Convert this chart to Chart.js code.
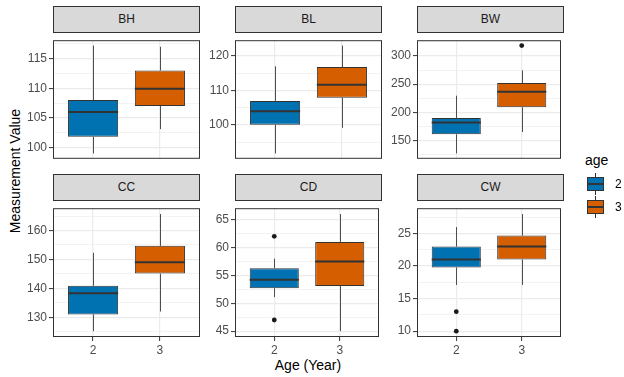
<!doctype html>
<html>
<head>
  <meta charset="utf-8">
  <script src="https://cdn.jsdelivr.net/npm/chart.js@4.4.1/dist/chart.umd.min.js"></script>
  <style>
    body { margin: 0; background: #fff; font-family: "Liberation Sans", Arial, sans-serif; }
    #plot { position: relative; width: 624px; height: 377px; overflow: hidden; background: #fff; }
    #plot canvas { position: absolute; }
    .strip { position: absolute; box-sizing: border-box; width: 147px; height: 27px; background: #d9d9d9;
      border: 1px solid #333; color: #1a1a1a; font-size: 12px; text-align: center; line-height: 25px; }
    .title { position: absolute; color: #000; font-size: 14px; line-height: 16px; text-align: center; white-space: nowrap; }
    .key { position: absolute; width: 17px; height: 22px; }
    .key .wh { position: absolute; left: 8px; top: 0; width: 1px; height: 22px; background: #333; }
    .key .bx { position: absolute; left: 0; top: 4px; width: 17px; height: 14px; box-sizing: border-box; border: 1px solid #333; }
    .key .md { position: absolute; left: 0; top: 10px; width: 17px; height: 2px; background: #333; }
    .key-label { position: absolute; font-size: 12px; color: #000; line-height: 14px; }
  </style>
</head>
<body>
  <div id="plot">
    <div class="title" style="left:-85px; top:163px; width:200px; transform:rotate(-90deg);">Measurement Value</div>
    <div class="title" style="left:208px; top:357px; width:200px;">Age (Year)</div>
    <div class="title" style="left:585px; top:152px; text-align:left;">age</div>
  </div>
  <script>
    const measures = ['BH', 'BL', 'BW', 'CC', 'CD', 'CW'];
    const ages = ['2', '3'];
    const ageColors = ['#0072B2', '#D55E00'];
    const majorSteps = [5, 10, 50, 10, 5, 5];

    // [lower whisker, Q1, median, Q3, upper whisker] for age 2 and age 3
    const statsBH = [[99.0, 101.8, 106.0, 108.0, 117.2], [103.1, 107.0, 109.9, 113.0, 117.0]];
    const statsBL = [[91.8, 100.1, 104.0, 107.0, 117.0], [99.2, 107.9, 111.7, 116.8, 123.0]];
    const statsBW = [[127, 161, 182, 190, 229.5], [165, 209, 236.5, 252, 274.5]];
    const statsCC = [[125.2, 131.0, 138.3, 140.9, 152.3], [132.0, 145.1, 149.0, 154.7, 165.7]];
    const statsCD = [[51.1, 52.7, 54.2, 56.3, 58.0], [45.0, 53.1, 57.5, 61.0, 66.0]];
    const statsCW = [[17.1, 19.8, 21.0, 23.0, 26.0], [17.1, 21.0, 23.0, 24.7, 28.0]];

    // outlying points for age 2 and age 3
    const outliersBH = [[], []];
    const outliersBL = [[], []];
    const outliersBW = [[], [318.5]];
    const outliersCC = [[], []];
    const outliersCD = [[62, 47], []];
    const outliersCW = [[13, 10], []];

    const allStats = [statsBH, statsBL, statsBW, statsCC, statsCD, statsCW];
    const allOutliers = [outliersBH, outliersBL, outliersBW, outliersCC, outliersCD, outliersCW];

    const colLeft = [53, 235, 417];
    const rowTop = [32, 200];
    const panelH = [136, 137];
    const panelW = 147;
    const axisW = 45;
    const tickFont = { family: '"Liberation Sans", Arial, sans-serif', size: 12 };

    // whiskers, medians and the panel border
    const boxParts = {
      id: 'boxParts',
      afterDatasetsDraw(chart, args, opts) {
        const ctx = chart.ctx;
        const y = chart.scales.y;
        const bars = chart.getDatasetMeta(0).data;
        ctx.save();
        opts.stats.forEach((s, k) => {
          const bar = bars[k];
          const x = Math.round(bar.x) + 0.5;
          ctx.strokeStyle = '#4d4d4d';
          ctx.lineWidth = 1;
          ctx.beginPath();
          ctx.moveTo(x, y.getPixelForValue(s[0]));
          ctx.lineTo(x, y.getPixelForValue(s[1]));
          ctx.moveTo(x, y.getPixelForValue(s[3]));
          ctx.lineTo(x, y.getPixelForValue(s[4]));
          ctx.stroke();
          const m = y.getPixelForValue(s[2]);
          ctx.strokeStyle = '#333';
          ctx.lineWidth = 2;
          ctx.beginPath();
          ctx.moveTo(bar.x - bar.width / 2, m);
          ctx.lineTo(bar.x + bar.width / 2, m);
          ctx.stroke();
        });
        const a = chart.chartArea;
        ctx.strokeStyle = '#333';
        ctx.lineWidth = 1;
        ctx.strokeRect(a.left + 0.5, a.top + 0.5, a.width - 1, a.height - 1);
        ctx.restore();
      }
    };

    const plot = document.getElementById('plot');
    const isMajor = (v, step) => Math.abs(v / step - Math.round(v / step)) < 1e-6;

    measures.forEach((name, i) => {
      const col = i % 3;
      const row = Math.floor(i / 3);
      const bottom = row === 1;
      const stats = allStats[i];
      const outs = allOutliers[i];
      const step = majorSteps[i];
      const vals = stats.flat().concat(outs.flat());
      const lo = Math.min(...vals);
      const hi = Math.max(...vals);
      const pad = (hi - lo) * 0.05;

      const strip = document.createElement('div');
      strip.className = 'strip';
      strip.style.left = colLeft[col] + 'px';
      strip.style.top = (rowTop[row] - 26) + 'px';
      strip.textContent = name;
      plot.appendChild(strip);

      const canvas = document.createElement('canvas');
      canvas.width = axisW + panelW + 1;
      canvas.height = 1 + panelH[row] + (bottom ? 20 : 0);
      canvas.style.left = (colLeft[col] - axisW) + 'px';
      canvas.style.top = (rowTop[row] - 1) + 'px';
      plot.appendChild(canvas);

      new Chart(canvas, {
        type: 'bar',
        data: {
          datasets: [{
            data: stats.map((s, k) => ({ x: k + 1, y: [s[1], s[3]] })),
            backgroundColor: ageColors,
            borderColor: '#333',
            borderWidth: 1,
            borderSkipped: false,
            barPercentage: 0.75,
            categoryPercentage: 1
          }, {
            type: 'scatter',
            data: outs.flatMap((o, k) => o.map(v => ({ x: k + 1, y: v }))),
            pointRadius: 2.4,
            backgroundColor: '#1a1a1a',
            borderWidth: 0
          }]
        },
        options: {
          responsive: false,
          animation: false,
          layout: { padding: { top: 1, right: 1, left: 0, bottom: 0 } },
          plugins: {
            legend: { display: false },
            tooltip: { enabled: false },
            boxParts: { stats }
          },
          scales: {
            x: {
              type: 'linear', min: 0.4, max: 2.6, offset: false,
              afterBuildTicks: s => { s.ticks = [{ value: 1 }, { value: 2 }]; },
              afterFit: s => { s.height = bottom ? 20 : 0; },
              grid: { offset: false, color: '#ebebeb', lineWidth: 1.2, drawTicks: bottom, tickLength: 4, tickColor: '#333', tickWidth: 1 },
              border: { display: false },
              ticks: { display: bottom, padding: 2, color: '#4d4d4d', font: tickFont, callback: v => ages[v - 1] }
            },
            y: {
              min: lo - pad, max: hi + pad,
              afterFit: s => { s.width = axisW; },
              grid: {
                color: '#ebebeb',
                lineWidth: c => isMajor(c.tick.value, step) ? 1.2 : 0.6,
                tickColor: c => isMajor(c.tick.value, step) ? '#333' : 'rgba(0,0,0,0)',
                tickLength: 4, tickWidth: 1
              },
              border: { display: false },
              ticks: {
                stepSize: step / 2, includeBounds: false, autoSkip: false, padding: 2,
                color: '#4d4d4d', font: tickFont,
                callback: v => isMajor(v, step) ? String(v) : ''
              }
            }
          }
        },
        plugins: [boxParts]
      });
    });

    // legend keys
    ages.forEach((a, k) => {
      const key = document.createElement('div');
      key.className = 'key';
      key.style.left = '587px';
      key.style.top = (173 + k * 23) + 'px';
      key.innerHTML = '<div class="wh"></div><div class="bx" style="background:' + ageColors[k] + '"></div><div class="md"></div>';
      plot.appendChild(key);
      const lab = document.createElement('div');
      lab.className = 'key-label';
      lab.style.left = '615px';
      lab.style.top = (177 + k * 23) + 'px';
      lab.textContent = a;
      plot.appendChild(lab);
    });
  </script>
</body>
</html>
